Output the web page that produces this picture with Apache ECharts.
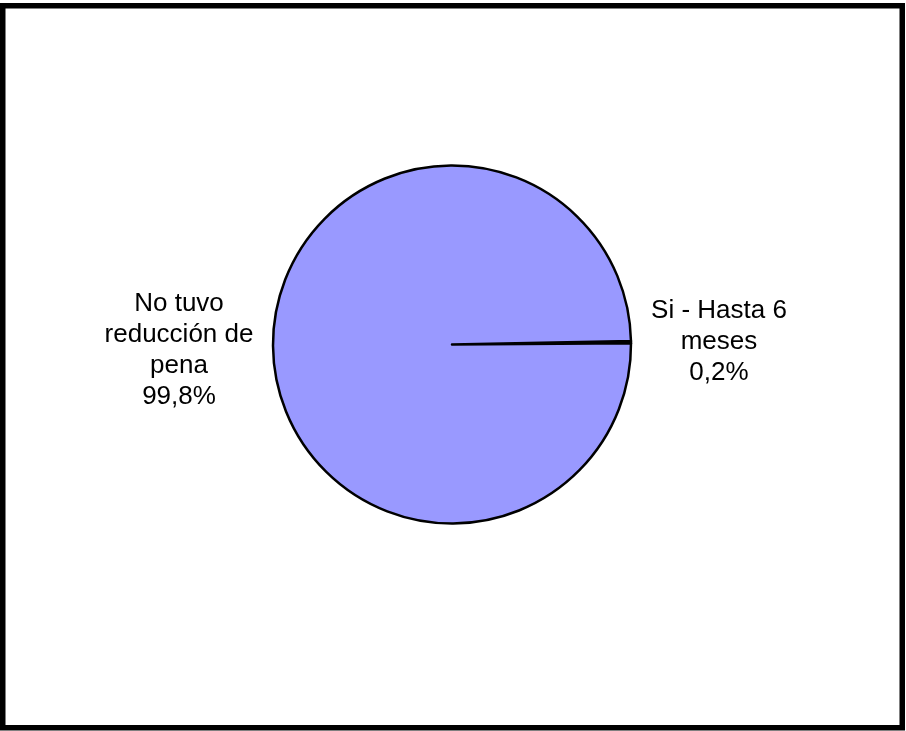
<!DOCTYPE html>
<html>
<head>
<meta charset="utf-8">
<script src="https://cdn.jsdelivr.net/npm/echarts@6/dist/echarts.min.js"></script>
<style>
  html, body { margin: 0; padding: 0; background: #fff; }
  #chart { width: 906px; height: 731px; }
</style>
</head>
<body>
<div id="chart"></div>
<script>
// datos del gráfico
const categories = ['Si - Hasta 6\nmeses', 'No tuvo\nreducción de\npena']
const percentValues = [0.2, 99.8]
const sliceColors = ['#993366', '#9999FF']

const myChart = echarts.init(document.getElementById('chart'))

myChart.setOption({
  animation: false,
  backgroundColor: '#fff',
  graphic: [
    {
      type: 'rect',
      shape: { x: 2.75, y: 5.75, width: 899.5, height: 722 },
      style: { fill: 'none', stroke: '#000', lineWidth: 5.5 },
      silent: true
    }
  ],
  series: [
    {
      type: 'pie',
      center: [452, 344.5],
      radius: 179,
      startAngle: 1.1,
      clockwise: true,
      avoidLabelOverlap: false,
      data: categories.map((name, i) => ({
        name: name,
        value: percentValues[i],
        itemStyle: { color: sliceColors[i] }
      })),
      itemStyle: {
        borderColor: '#000',
        borderWidth: 2.5
      },
      label: {
        show: true,
        color: '#000',
        fontFamily: 'Liberation Sans, Arial, sans-serif',
        fontSize: 26,
        lineHeight: 31,
        align: 'center',
        formatter: p => p.name + '\n' + p.value.toFixed(1).replace('.', ',') + '%'
      },
      labelLine: { show: false },
      labelLayout: params => {
        if (params.dataIndex === 0) {
          return { x: 719, y: 342, align: 'center', verticalAlign: 'middle' }
        }
        return { x: 179, y: 350, align: 'center', verticalAlign: 'middle' }
      },
      emphasis: { disabled: true }
    }
  ]
})
</script>
</body>
</html>
